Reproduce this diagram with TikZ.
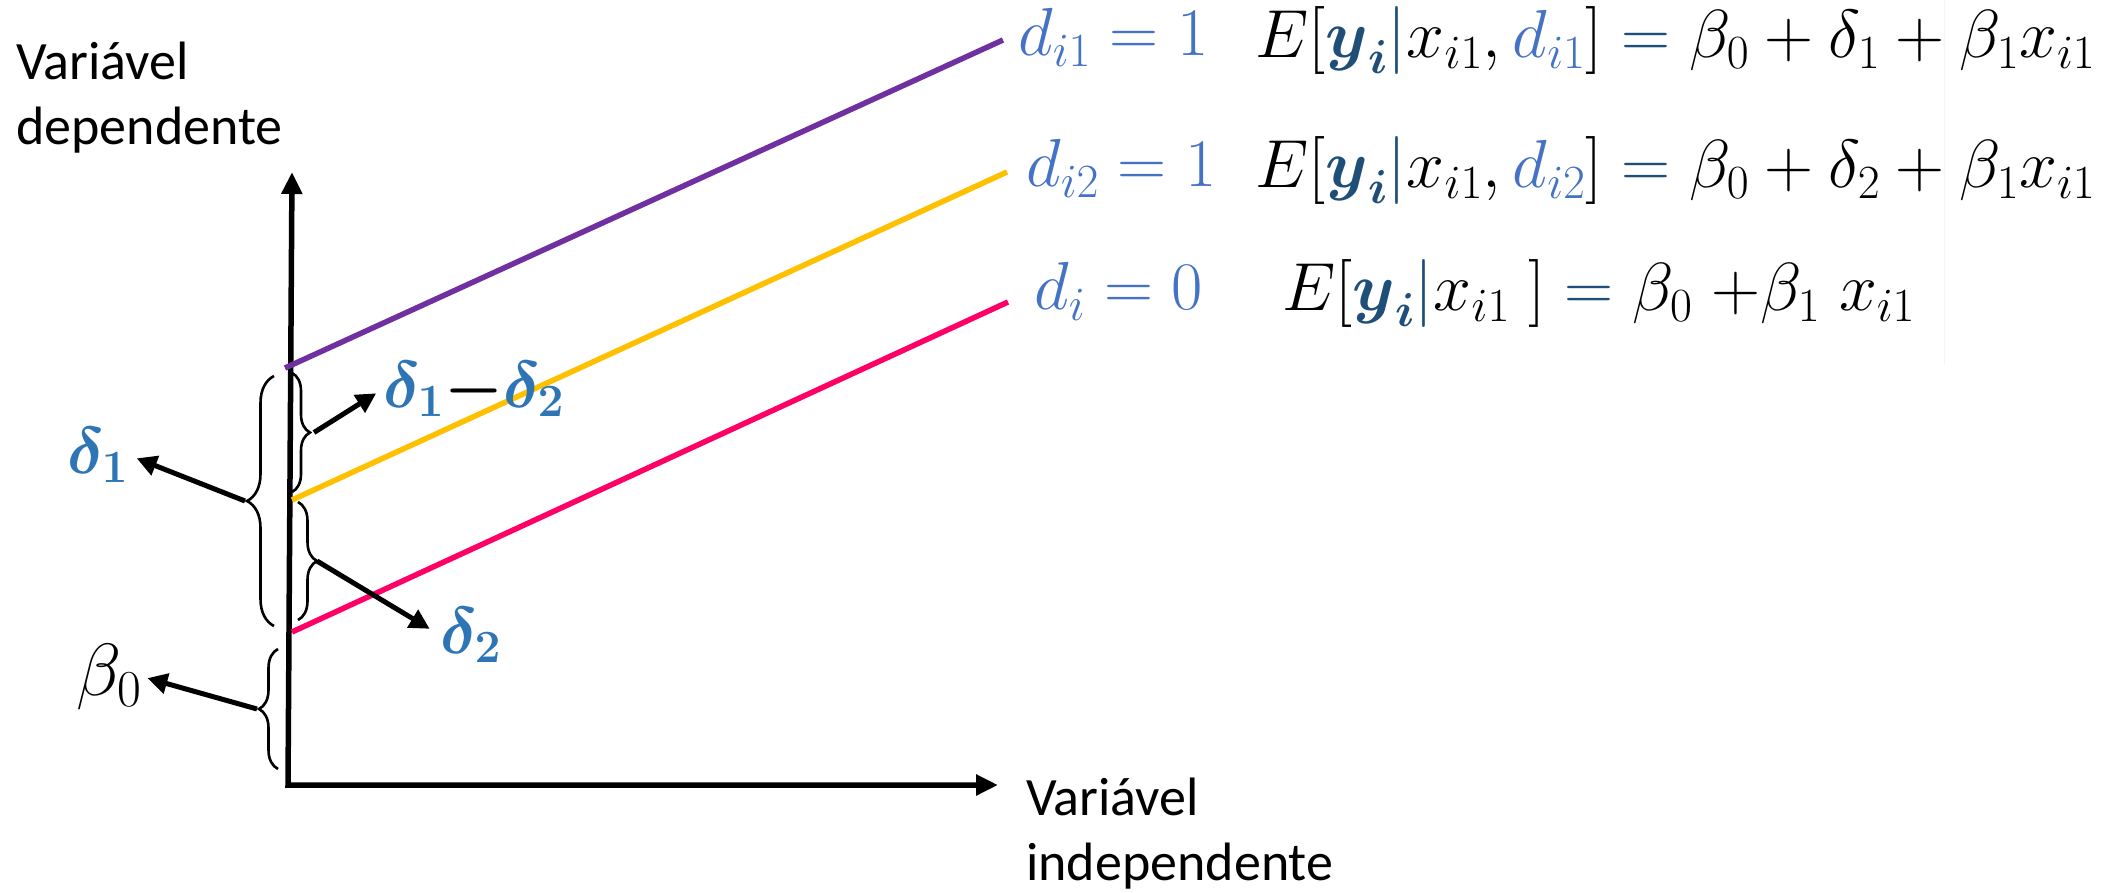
\RequirePackage{fix-cm}
\documentclass[tikz,border=0pt]{standalone}
\usepackage{amsmath}
\usepackage{fontspec}
\setmainfont{Carlito}
\usetikzlibrary{arrows.meta,decorations.pathreplacing}
\definecolor{cpurple}{HTML}{7030A0}
\definecolor{cyellow}{HTML}{FFC000}
\definecolor{cpink}{HTML}{FF0066}
\definecolor{cdelta}{HTML}{2E75B6}
\definecolor{cdlab}{HTML}{4472C4}
\definecolor{cnavy}{HTML}{1F4E79}
\tikzset{
  axisline/.style={line width=5.5pt,{Triangle[length=22pt,width=20pt]}-{Triangle[length=22pt,width=20pt]}},
  regline/.style={line width=5.5pt},
  bracestyle/.style={decorate,line width=2.6pt},
  pointer/.style={line width=5pt,-{Triangle[length=20pt,width=20pt]}},
  axlabel/.style={inner sep=0pt,align=left,font=\fontsize{54}{65}\selectfont},
  deltalab/.style={inner sep=0pt,text=cdelta,font=\fontsize{66}{72}\selectfont},
  eqlab/.style={inner sep=0pt,anchor=base west,font=\fontsize{68}{74}\selectfont},
  dlab/.style={inner sep=0pt,anchor=base west,text=cdlab,font=\fontsize{68}{74}\selectfont}
}
\newcommand{\ybold}{\textcolor{cnavy}{\boldsymbol{y}_{\boldsymbol{i}}}}
\newcommand{\condbar}{\textcolor{cnavy}{|}}
\newcommand{\eqn}{\mathrel{\textcolor{cnavy}{=}}}
\begin{document}
\begin{tikzpicture}[x=1pt,y=-1pt]
\useasboundingbox (0,0) rectangle (2118,893);
% faint artifact line
\draw[black!4,line width=1pt] (1944,0) -- (1944,365);
% axes
\coordinate (O) at (288,785);
\coordinate (Ytop) at (292,172);
\coordinate (Xend) at (998,785);
\draw[axisline,line join=miter] (Ytop) -- (O) -- (Xend);
% axis labels
\node[axlabel,anchor=north west] (ylab) at (16,42) {Variável\\dependente};
\node[axlabel,anchor=north west] (xlab) at (1026,778) {Variável\\independente};
% regression lines
\coordinate (p1) at (285,368); \coordinate (p2) at (1003,40);
\coordinate (y1) at (292,500); \coordinate (y2) at (1007,172);
\coordinate (r1) at (292,632); \coordinate (r2) at (1008,302);
\draw[regline,cpurple] (p1) -- (p2);
\draw[regline,cyellow] (y1) -- (y2);
\draw[regline,cpink] (r1) -- (r2);
% d labels
\node[dlab] (d1) at (1018,56) {$d_{i1}=1$};
\node[dlab] (d2) at (1026,187) {$d_{i2}=1$};
\node[dlab] (d0) at (1034,310) {$d_{i}=0$};
% equations
\node[eqlab] (eq1) at (1255,58) {$E[\ybold\condbar x_{i1},\textcolor{cdlab}{d_{i1}}]\eqn\beta_0+\delta_1+\beta_1x_{i1}$};
\node[eqlab] (eq2) at (1255,188) {$E[\ybold\condbar x_{i1},\textcolor{cdlab}{d_{i2}}]\eqn\beta_0+\delta_2+\beta_1x_{i1}$};
\node[eqlab] (eq3) at (1282,311) {$E[\ybold\condbar x_{i1}\;]\eqn\beta_0\;{+}\beta_1\;x_{i1}$};
% braces
\draw[bracestyle,decoration={brace,amplitude=27pt}] (274,626) -- (274,376) coordinate[midway,xshift=-29pt] (tb1);
\draw[bracestyle,decoration={brace,amplitude=18pt}] (292,373) -- (292,492) coordinate[midway,xshift=22pt] (tb12);
\draw[bracestyle,decoration={brace,amplitude=19pt}] (298,502) -- (298,620) coordinate[midway,xshift=19pt] (tb2);
\draw[bracestyle,decoration={brace,amplitude=19pt}] (278,769) -- (278,649) coordinate[midway,xshift=-21pt] (tb0);
% delta labels
\node[deltalab,anchor=base west] (l12) at (383,407) {$\boldsymbol{\delta_1}\textcolor{black}{\boldsymbol{-}}\boldsymbol{\delta_2}$};
\node[deltalab,anchor=base west] (l1) at (67,473) {$\boldsymbol{\delta_1}$};
\node[deltalab,anchor=base west] (l2) at (440,653) {$\boldsymbol{\delta_2}$};
\node[deltalab,anchor=base west,text=black,font=\fontsize{74}{80}\selectfont] (l0) at (76,695) {$\beta_0$};
% pointers
\draw[pointer,shorten >=8pt] (tb12) -- (l12.west);
\draw[pointer,shorten >=9pt] (tb1) -- (l1.east);
\draw[pointer,shorten >=12pt] (tb2) -- (l2.west);
\draw[pointer,shorten >=6pt] (tb0) -- (l0.east);
\end{tikzpicture}
\end{document}
